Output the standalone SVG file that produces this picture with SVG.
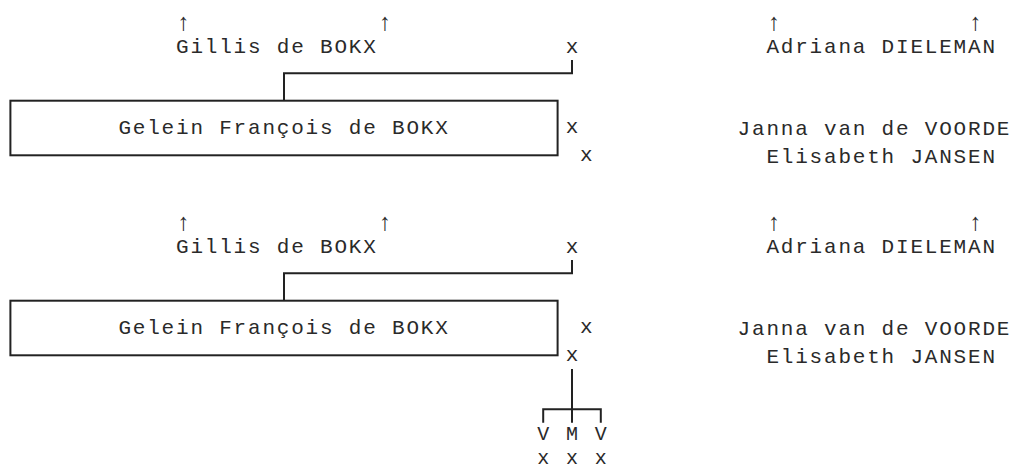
<svg xmlns="http://www.w3.org/2000/svg" width="1012" height="470" viewBox="0 0 1012 470">
<style>
.t{font-family:"Liberation Mono","DejaVu Sans Mono",monospace;font-size:21px;letter-spacing:1.8px;fill:#2a2a2a}
.c{font-family:"Liberation Mono","DejaVu Sans Mono",monospace;font-size:21px;fill:#2a2a2a;text-anchor:middle}
.s{font-family:"Liberation Mono","DejaVu Sans Mono",monospace;font-size:20px;fill:#2a2a2a;text-anchor:middle}
.a{font-family:"Liberation Mono","DejaVu Sans Mono",monospace;font-size:24px;fill:#2a2a2a;text-anchor:middle}
.ln{fill:none;stroke:#222;stroke-width:2}
</style>
<rect width="1012" height="470" fill="#fff"/>
<g id="block1">
  <g id="gillis1"><text class="a" x="183.2" y="30">↑</text><text class="a" x="384.8" y="30">↑</text><text class="t" x="176" y="53">Gillis de BOKX</text></g>
  <g id="adriana1"><text class="a" x="773.6" y="30">↑</text><text class="a" x="975.2" y="30">↑</text><text class="t" x="766.4" y="53">Adriana DIELEMAN</text></g>
  <g id="x1top"><text class="c" x="572" y="53">x</text></g>
  <g id="gelein1"><rect class="ln" x="10.4" y="100.7" width="547.2" height="54.6"/><text class="t" x="118.4" y="134">Gelein François de BOKX</text></g>
  <g id="x1right"><text class="c" x="572" y="133">x</text></g>
  <g id="x1low"><text class="c" x="586.4" y="161">x</text></g>
  <g id="janna1"><text class="t" x="737.6" y="135">Janna van de VOORDE</text></g>
  <g id="elisabeth1"><text class="t" x="766.4" y="163">Elisabeth JANSEN</text></g>
</g>
<g id="block2">
  <g id="gillis2"><text class="a" x="183.2" y="230">↑</text><text class="a" x="384.8" y="230">↑</text><text class="t" x="176" y="253">Gillis de BOKX</text></g>
  <g id="adriana2"><text class="a" x="773.6" y="230">↑</text><text class="a" x="975.2" y="230">↑</text><text class="t" x="766.4" y="253">Adriana DIELEMAN</text></g>
  <g id="x2top"><text class="c" x="572" y="253">x</text></g>
  <g id="gelein2"><rect class="ln" x="10.4" y="300.7" width="547.2" height="54.6"/><text class="t" x="118.4" y="334">Gelein François de BOKX</text></g>
  <g id="x2right"><text class="c" x="586.4" y="333">x</text></g>
  <g id="x2low"><text class="c" x="572" y="361">x</text></g>
  <g id="janna2"><text class="t" x="737.6" y="335">Janna van de VOORDE</text></g>
  <g id="elisabeth2"><text class="t" x="766.4" y="363">Elisabeth JANSEN</text></g>
  <g id="children"><text class="s" x="543.2" y="440">V</text><text class="s" x="572" y="440">M</text><text class="s" x="600.8" y="440">V</text>
  <text class="s" x="543.2" y="464">x</text><text class="s" x="572" y="464">x</text><text class="s" x="600.8" y="464">x</text></g>
</g>
<g id="connectors">
  <path class="ln" d="M284,100.7 V73.3 H572 V60"/>
  <path class="ln" d="M284,300.7 V273.3 H572 V260"/>
  <path class="ln" d="M572,369 V422.7 M543.2,422.7 V409.3 H600.8 V422.7"/>
</g>
</svg>
